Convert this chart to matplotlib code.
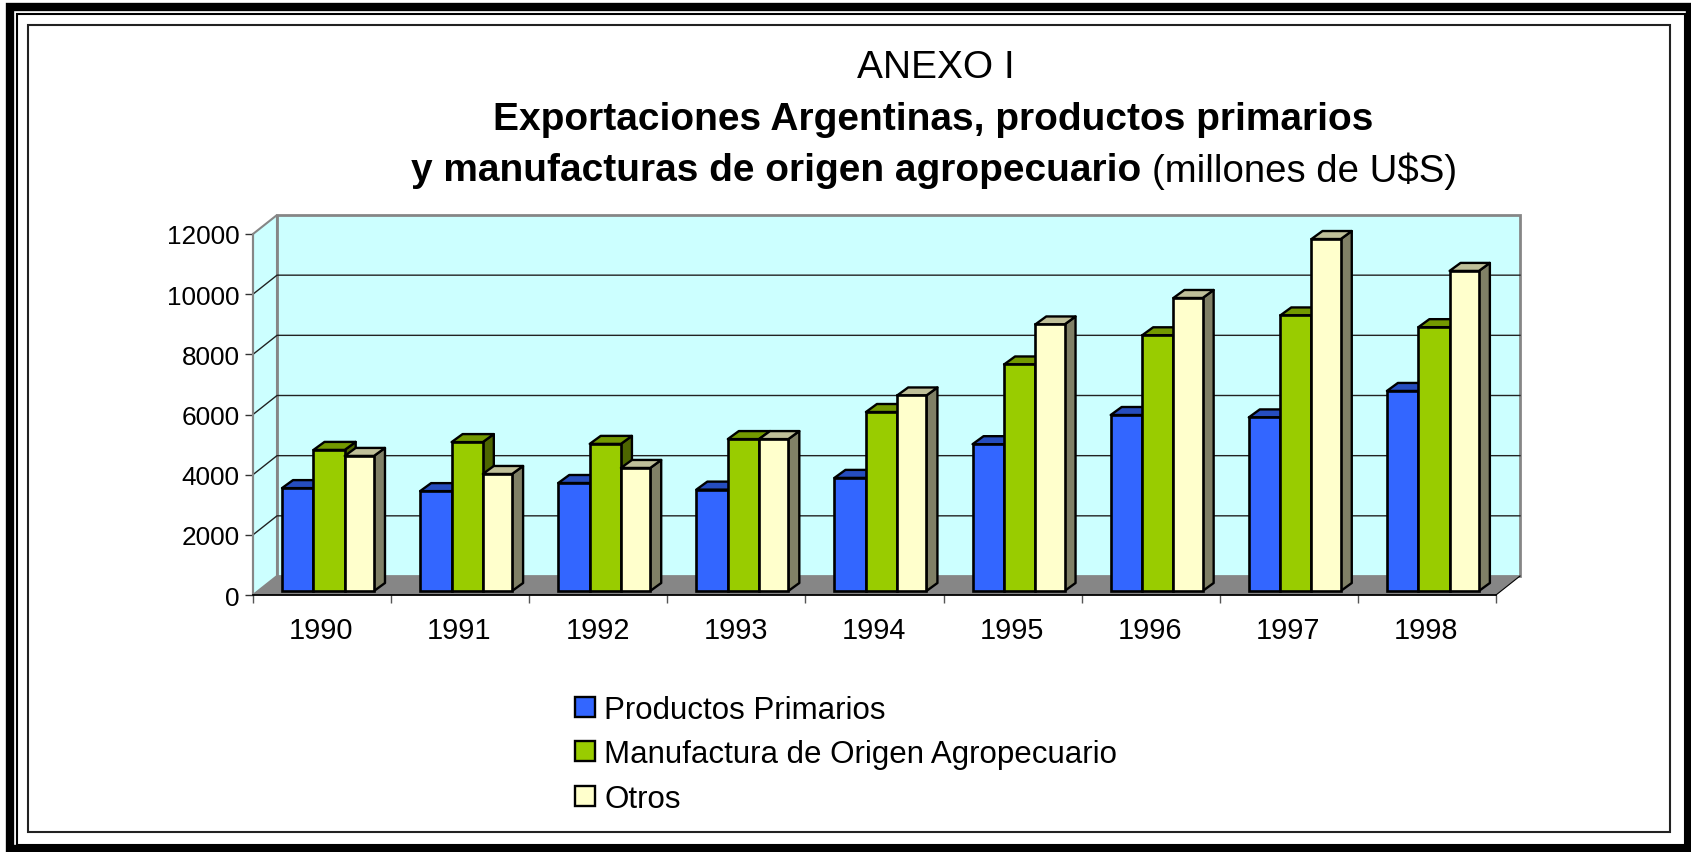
import matplotlib
matplotlib.use('Agg')
import matplotlib.pyplot as plt
from matplotlib.patches import Polygon, Rectangle, Patch

plt.rcParams['font.family'] = ['Liberation Sans', 'DejaVu Sans']

# datos
anios = ['1990', '1991', '1992', '1993', '1994', '1995', '1996', '1997', '1998']
primarios = [3420, 3320, 3590, 3370, 3760, 4880, 5850, 5770, 6650]
manufactura = [4690, 4950, 4890, 5050, 5950, 7530, 8500, 9160, 8770]
otros = [4490, 3890, 4090, 5050, 6500, 8860, 9740, 11700, 10640]
nombres = ['Productos Primarios', 'Manufactura de Origen Agropecuario', 'Otros']
yticks = [0, 2000, 4000, 6000, 8000, 10000, 12000]

# colores: frente, tapa, costado
col_frente = ['#3366FF', '#99CC00', '#FFFFCC']
col_tapa = ['#264DBF', '#739900', '#BFBF99']
col_lado = ['#1A3380', '#4D6600', '#808066']

W, H = 1691, 853
fig = plt.figure(figsize=(W / 100, H / 100), dpi=100, facecolor='white')

# marco de la pagina, en pixeles
fondo = fig.add_axes([0, 0, 1, 1])
fondo.set_xlim(0, W)
fondo.set_ylim(H, 0)
fondo.axis('off')
fondo.add_patch(Rectangle((10, 8), 1680, 842, fill=False, ec='black', lw=6))
fondo.add_patch(Rectangle((17, 15), 1668, 830.5, fill=False, ec='black', lw=1.5))
fondo.add_patch(Rectangle((28, 25.5), 1641.5, 807, fill=False, ec='#222222', lw=1.5))

# titulo
fondo.text(936, 68, 'ANEXO I', fontsize=28, ha='center', va='center')
fondo.text(933, 120, 'Exportaciones Argentinas, productos primarios', fontsize=28,
           fontweight='bold', ha='center', va='center')
fondo.text(411, 171, 'y manufacturas de origen agropecuario', fontsize=28,
           fontweight='bold', ha='left', va='center')
fondo.text(1152, 171, '(millones de U$S)', fontsize=27.6, ha='left', va='center')

# ejes sobre el plano frontal del grafico
ax = fig.add_axes([253 / W, 1 - 596 / H, 1243 / W, 361 / H])
ax.patch.set_alpha(0)
ax.set_xlim(0, 9)
ax.set_ylim(0, 12000)

# profundidad de la caja
px_x = 9 / 1243
px_y = 12000 / 361
dx = 24 * px_x
dy = 19 * px_y

# paredes y piso
ax.add_patch(Polygon([(dx, dy), (9 + dx, dy), (9 + dx, 12000 + dy), (dx, 12000 + dy)],
                     fc='#CCFFFF', ec='#868686', lw=2, clip_on=False, zorder=1))
ax.add_patch(Polygon([(0, 0), (dx, dy), (dx, 12000 + dy), (0, 12000)],
                     fc='#CCFFFF', ec='#868686', lw=1.5, clip_on=False, zorder=1))
ax.add_patch(Polygon([(0, 0), (9, 0), (9 + dx, dy), (dx, dy)],
                     fc='#868686', ec='none', clip_on=False, zorder=2))
ax.plot([9, 9 + dx], [0, dy], color='black', lw=0.8, clip_on=False, zorder=2)

# lineas de division
for v in yticks[1:-1]:
    ax.plot([0, dx, 9 + dx], [v, v + dy, v + dy], color='#222222', lw=1, clip_on=False, zorder=2)

# barras
ancho = [0.228, 0.226, 0.212]
inicio = 0.21
base = 4 * px_y
prof_x = 11 * px_x
prof_y = 8 * px_y
series = [primarios, manufactura, otros]
for i in range(len(anios)):
    x = i + inicio
    for k, valores in enumerate(series):
        v = valores[i]
        w = ancho[k]
        # cara frontal con bar, tapa y costado con poligonos
        ax.add_patch(Polygon([(x + w, base), (x + w + prof_x, base + prof_y),
                              (x + w + prof_x, v + base + prof_y), (x + w, v + base)],
                             fc=col_lado[k], ec='black', lw=1.7, joinstyle='round',
                             clip_on=False, zorder=3))
        ax.add_patch(Polygon([(x, v + base), (x + prof_x, v + base + prof_y),
                              (x + w + prof_x, v + base + prof_y), (x + w, v + base)],
                             fc=col_tapa[k], ec='black', lw=1.7, joinstyle='round',
                             clip_on=False, zorder=3))
        ax.bar(x, v, width=w, bottom=base, align='edge', color=col_frente[k],
               edgecolor='black', linewidth=1.9, clip_on=False, zorder=3)
        x += w

# ejes y marcas
for lado in ['top', 'right']:
    ax.spines[lado].set_visible(False)
ax.spines['left'].set_color('#868686')
ax.spines['left'].set_linewidth(1.5)
ax.spines['left'].set_zorder(2)
ax.spines['bottom'].set_color('black')
ax.spines['bottom'].set_linewidth(1.3)
ax.spines['bottom'].set_zorder(2)
ax.set_yticks(yticks)
ax.set_xticks(range(10))
ax.set_xticklabels([])
ax.set_xticks([i + 0.495 for i in range(9)], labels=anios, minor=True)
ax.tick_params(axis='x', which='major', length=5.5, width=1, color='#555555')
ax.tick_params(axis='x', which='minor', length=0, pad=15, labelsize=20.8)
ax.tick_params(axis='y', length=5.5, width=1, color='#333333', pad=4, labelsize=18.8)

# leyenda
asas = [Patch(fc=c, ec='black', lw=1.7) for c in col_frente]
fig.legend(asas, nombres, loc='upper left', bbox_to_anchor=(566 / W, 1 - 686.5 / H),
           frameon=False, fontsize=22.5, handlelength=0.62, handleheight=0.62,
           handletextpad=0.3, labelspacing=0.46, borderpad=0.3, borderaxespad=0)

plt.savefig('out.png', dpi=100)
